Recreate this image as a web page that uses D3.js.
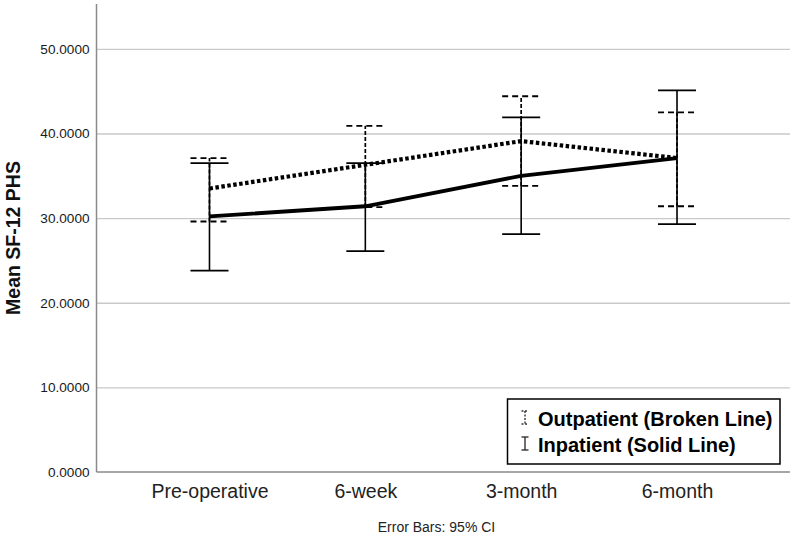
<!DOCTYPE html>
<html>
<head>
<meta charset="utf-8">
<script src="https://cdn.jsdelivr.net/npm/d3@7"></script>
<style>
  html, body { margin: 0; padding: 0; background: #fff; }
  svg { display: block; font-family: "Liberation Sans", Arial, sans-serif; }
</style>
</head>
<body>
<svg id="chart" width="792" height="537"></svg>
<script>
const categories = ["Pre-operative", "6-week", "3-month", "6-month"];
const outMean = [33.5, 36.3, 39.1, 37.1];
const outLow  = [29.6, 31.3, 33.8, 31.4];
const outHigh = [37.1, 40.9, 44.4, 42.5];
const inMean  = [30.2, 31.4, 35.0, 37.1];
const inLow   = [23.8, 26.1, 28.1, 29.3];
const inHigh  = [36.5, 36.5, 41.9, 45.1];
const yTicks  = [0, 10, 20, 30, 40, 50];
const yTitle = "Mean SF-12 PHS";
const footnote = "Error Bars: 95% CI";
const legendLabels = ["Outpatient (Broken Line)", "Inpatient (Solid Line)"];

(function () {
const svg = d3.select("#chart");
const mLeft = 96.5, mRight = 790, mBottom = 472, mTop = 4;

const x = d3.scalePoint().domain(categories).range([mLeft, mRight]).padding(0.725);
const y = d3.scaleLinear().domain([0, 55.3]).range([mBottom, mTop]);

// gridlines
const grid = svg.append("g").attr("transform", `translate(${mLeft},0)`)
  .call(d3.axisLeft(y).tickValues(yTicks.filter(d => d > 0)).tickSize(-(mRight - mLeft)).tickFormat(""));
grid.select(".domain").remove();
grid.selectAll(".tick line").attr("stroke", "#c9c9c9").attr("stroke-width", 1.3);

// y tick labels
const yAx = svg.append("g").attr("transform", `translate(${mLeft},0)`)
  .call(d3.axisLeft(y).tickValues(yTicks).tickSize(0).tickPadding(7).tickFormat(d3.format(".4f")));
yAx.select(".domain").remove();
yAx.selectAll("text").attr("font-size", 13.6).attr("fill", "#1a1a1a").attr("font-family", "Liberation Sans, Arial, sans-serif");

// x axis labels
const xAx = svg.append("g").attr("transform", `translate(0,${mBottom})`)
  .call(d3.axisBottom(x).tickSize(0).tickPadding(12));
xAx.select(".domain").remove();
xAx.selectAll("text").attr("font-size", 19.5).attr("fill", "#222").attr("font-family", "Liberation Sans, Arial, sans-serif");

// axis lines
svg.append("line").attr("x1", mLeft).attr("x2", mLeft).attr("y1", y(55.3)).attr("y2", mBottom)
  .attr("stroke", "#8a8a8a").attr("stroke-width", 1.5);
svg.append("line").attr("x1", mLeft).attr("x2", mRight).attr("y1", mBottom).attr("y2", mBottom)
  .attr("stroke", "#8a8a8a").attr("stroke-width", 1.5);

const capW = 19;

// inpatient error bars (solid)
const inG = svg.append("g");
categories.forEach((c, i) => {
  const cx = x(c);
  inG.append("line").attr("x1", cx).attr("x2", cx).attr("y1", y(inLow[i])).attr("y2", y(inHigh[i]))
    .attr("stroke", "#000").attr("stroke-width", 1.6);
  [inLow[i], inHigh[i]].forEach(v => {
    inG.append("line").attr("x1", cx - capW).attr("x2", cx + capW).attr("y1", y(v)).attr("y2", y(v))
      .attr("stroke", "#000").attr("stroke-width", 1.8);
  });
});

// outpatient error bars (dashed)
const outG = svg.append("g");
categories.forEach((c, i) => {
  const cx = x(c);
  outG.append("line").attr("x1", cx).attr("x2", cx).attr("y1", y(outLow[i])).attr("y2", y(outHigh[i]))
    .attr("stroke", "#000").attr("stroke-width", 1.7).attr("stroke-dasharray", "4,2");
  [outLow[i], outHigh[i]].forEach(v => {
    outG.append("line").attr("x1", cx - capW).attr("x2", cx + capW).attr("y1", y(v)).attr("y2", y(v))
      .attr("stroke", "#000").attr("stroke-width", 1.8).attr("stroke-dasharray", "6,4");
  });
});

// mean lines
const line = d3.line().x((d, i) => x(categories[i])).y(d => y(d));
svg.append("path").datum(inMean).attr("d", line).attr("fill", "none")
  .attr("stroke", "#000").attr("stroke-width", 3.8).attr("stroke-linejoin", "round");
svg.append("path").datum(outMean).attr("d", line).attr("fill", "none")
  .attr("stroke", "#000").attr("stroke-width", 4.2).attr("stroke-dasharray", "3.5,2.5");

// y title
svg.append("text").attr("transform", `translate(20,${(y(55.3) + mBottom) / 2}) rotate(-90)`)
  .attr("text-anchor", "middle").attr("font-size", 19.5).attr("font-weight", "bold").attr("fill", "#111")
  .text(yTitle);

// footnote
svg.append("text").attr("x", 436.5).attr("y", 532).attr("text-anchor", "middle")
  .attr("font-size", 14).attr("fill", "#222").text(footnote);

// legend
const lg = svg.append("g");
lg.append("rect").attr("x", 507.5).attr("y", 399).attr("width", 272.5).attr("height", 65)
  .attr("fill", "#fff").attr("stroke", "#000").attr("stroke-width", 1.5);
const rows = [426, 452];
legendLabels.forEach((t, i) => {
  lg.append("text").attr("x", 538).attr("y", rows[i]).attr("font-size", 20).attr("font-weight", "bold")
    .attr("fill", "#000").text(t);
  const ix = 525, y1 = rows[i] - 15, y2 = rows[i] - 2;
  const dash = i === 0 ? "2,1.5" : null;
  lg.append("line").attr("x1", ix).attr("x2", ix).attr("y1", y1).attr("y2", y2)
    .attr("stroke", "#333").attr("stroke-width", 1.4).attr("stroke-dasharray", dash);
  [y1, y2].forEach(yy => {
    lg.append("line").attr("x1", ix - 3.5).attr("x2", ix + 3.5).attr("y1", yy).attr("y2", yy)
      .attr("stroke", "#333").attr("stroke-width", 1.4).attr("stroke-dasharray", dash);
  });
});
})();
</script>
</body>
</html>
